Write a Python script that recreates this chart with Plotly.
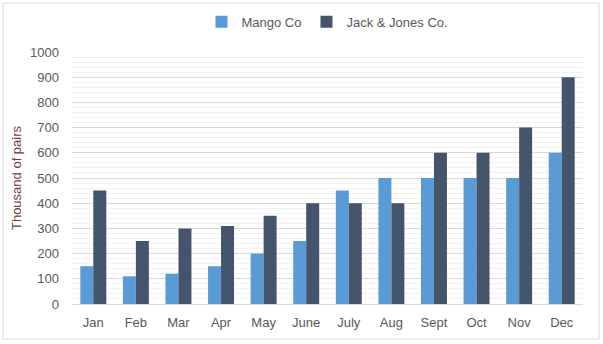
import plotly.graph_objects as go

months = ["Jan", "Feb", "Mar", "Apr", "May", "June", "July", "Aug", "Sept", "Oct", "Nov", "Dec"]
mango = [150, 110, 120, 150, 200, 250, 450, 500, 500, 500, 500, 600]
jack = [450, 250, 300, 310, 350, 400, 400, 400, 600, 600, 700, 900]
y_ticks = list(range(0, 1001, 100))

FONT = "Liberation Sans"

fig = go.Figure()
fig.add_trace(go.Bar(x=months, y=mango, name="Mango Co", marker=dict(color="#5B9BD5", line=dict(width=0))))
fig.add_trace(go.Bar(x=months, y=jack, name="Jack & Jones Co.", marker=dict(color="#44546A", line=dict(width=0))))

fig.update_layout(
    width=603, height=344,
    margin=dict(l=72, r=20, t=52, b=40, autoexpand=False),
    paper_bgcolor="white", plot_bgcolor="white",
    barmode="group", bargap=0.39, bargroupgap=0,
    font=dict(family=FONT, size=12, color="#595959"),
    legend=dict(orientation="h", x=0.5, xanchor="center", y=0.98, yanchor="top",
                yref="container", font=dict(size=13, color="#595959"),
                bgcolor="rgba(0,0,0,0)", itemwidth=30, traceorder="normal"),
    showlegend=True,
)
fig.update_yaxes(
    range=[0, 1000], tickvals=y_ticks, ticktext=[str(v) for v in y_ticks],
    showgrid=True, gridcolor="#D9D9D9", gridwidth=1,
    minor=dict(dtick=20, showgrid=True, gridcolor="#F2F2F2", gridwidth=1),
    zeroline=False, showline=False, ticks="", ticklabelstandoff=12,
    tickfont=dict(size=13, color="#595959"),
    title=dict(text="Thousand of pairs", font=dict(size=13, color="#6B3F3F"), standoff=5),
)
fig.update_xaxes(
    showline=True, linecolor="#D9D9D9", linewidth=1, ticks="",
    tickfont=dict(size=13, color="#595959"), ticklabelstandoff=6,
)
fig.add_shape(type="rect", xref="paper", yref="paper",
              x0=-69/511, x1=1 + 16/511, y0=-35/252, y1=1 + 49/252,
              line=dict(color="#D9D9D9", width=1), layer="below")
fig.write_html("out.html")
